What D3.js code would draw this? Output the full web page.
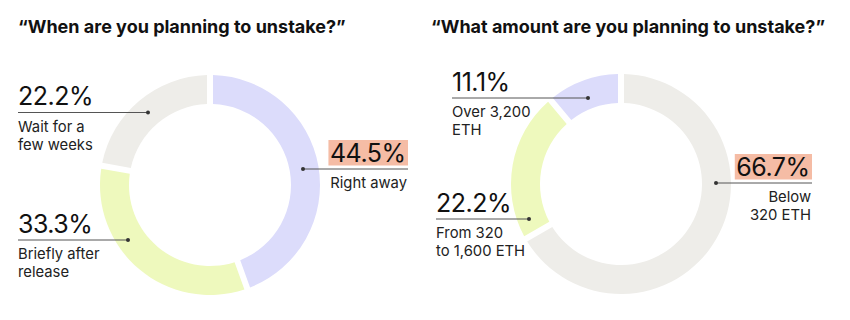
<!DOCTYPE html>
<html>
<head>
<meta charset="utf-8">
<script src="https://cdn.jsdelivr.net/npm/d3@7"></script>
<style>
  html, body { margin: 0; padding: 0; background: #fff; }
  svg { display: block; font-family: Inter, "Noto Sans", sans-serif; }
</style>
</head>
<body>
<svg id="chart" width="850" height="320"></svg>
<script>
// ---- data ----
const titles = ["\u201CWhen are you planning to unstake?\u201D", "\u201CWhat amount are you planning to unstake?\u201D"];

const timingCategories = ["Right away", "Briefly after release", "Wait for a few weeks"];
const timingValues = [44.5, 33.3, 22.2];
const timingLabelLines = [["Right away"], ["Briefly after", "release"], ["Wait for a", "few weeks"]];

const amountCategories = ["Below 320 ETH", "From 320 to 1,600 ETH", "Over 3,200 ETH"];
const amountValues = [66.7, 22.2, 11.1];
const amountLabelLines = [["Below", "320 ETH"], ["From 320", "to 1,600 ETH"], ["Over 3,200", "ETH"]];

// ---- styles ----
const colorsTiming = ["#dcdcfb", "#eef9bd", "#eeede9"];
const colorsAmount = ["#eeede9", "#eef9bd", "#dcdcfb"];
const highlightColor = "#f5bca5";

const svg = d3.select("#chart");
svg.append("rect").attr("width", 850).attr("height", 320).attr("fill", "#fff");

const outerR = 110, innerR = 81;
const pie = d3.pie().sort(null).value(d => d);
const arc = d3.arc().innerRadius(innerR).outerRadius(outerR).padAngle(0.06).padRadius(100);

// label layout: side, text edge, line y (relative to center), dot x (relative to center), highlight
const layoutTiming = [
  { side: "right", edge: 408, lineDy: -16, dotDx: 93, highlight: true },
  { side: "left",  edge: 18,  lineDy: 55,  dotDx: -82, highlight: false },
  { side: "left",  edge: 18,  lineDy: -72.5, dotDx: -62, highlight: false }
];
const layoutAmount = [
  { side: "right", edge: 812, lineDy: -1, dotDx: 95, highlight: true },
  { side: "left",  edge: 436, lineDy: 35, dotDx: -92, highlight: false },
  { side: "left",  edge: 452, lineDy: -86, dotDx: -33, highlight: false }
];

function drawDonut(cfg) {
  const g = svg.append("g");
  g.append("text")
    .attr("x", cfg.titleX).attr("y", 33)
    .attr("font-size", 18).attr("font-weight", 700).attr("fill", "#111")
    .text(cfg.title);

  const cg = g.append("g").attr("transform", `translate(${cfg.cx},${cfg.cy})`);
  const arcs = pie(cfg.values);
  cg.selectAll("path").data(arcs).join("path")
    .attr("d", arc)
    .attr("fill", (d, i) => cfg.colors[i]);

  arcs.forEach((a, i) => {
    const L = cfg.layout[i];
    const lineY = cfg.cy + L.lineDy;
    const dotX = cfg.cx + L.dotDx;
    const lg = g.append("g");
    const pct = d3.format(".1f")(cfg.values[i]) + "%";
    const isRight = L.side === "right";
    const textX = L.edge;
    const anchor = isRight ? "end" : "start";

    const num = lg.append("text")
      .attr("x", textX - (isRight ? 2.5 : 0)).attr("y", lineY - 7.5)
      .attr("text-anchor", anchor)
      .attr("font-size", 25).attr("font-weight", 400).attr("fill", "#111")
      .attr("letter-spacing", -0.5)
      .text(pct);
    if (L.highlight) {
      const bb = num.node().getBBox();
      lg.insert("rect", "text")
        .attr("x", bb.x - 1.5).attr("y", lineY - 29)
        .attr("width", textX - (bb.x - 1.5)).attr("height", 25.5)
        .attr("fill", highlightColor);
    }
    const x1 = isRight ? dotX : textX;
    const x2 = isRight ? textX : dotX;
    lg.append("line")
      .attr("x1", x1).attr("x2", x2).attr("y1", lineY).attr("y2", lineY)
      .attr("stroke", "#555").attr("stroke-width", 1);
    lg.append("circle").attr("cx", dotX).attr("cy", lineY).attr("r", 2).attr("fill", "#333");

    cfg.lines[i].forEach((t, j) => {
      lg.append("text")
        .attr("x", isRight ? textX - 1 : textX).attr("y", lineY + 19 + j * 18)
        .attr("text-anchor", anchor)
        .attr("font-size", 14.8).attr("fill", "#222")
        .text(t);
    });
  });
}

drawDonut({
  title: titles[0], titleX: 18, cx: 210, cy: 185,
  values: timingValues, colors: colorsTiming, layout: layoutTiming, lines: timingLabelLines
});
drawDonut({
  title: titles[1], titleX: 431, cx: 621, cy: 184,
  values: amountValues, colors: colorsAmount, layout: layoutAmount, lines: amountLabelLines
});
</script>
</body>
</html>
